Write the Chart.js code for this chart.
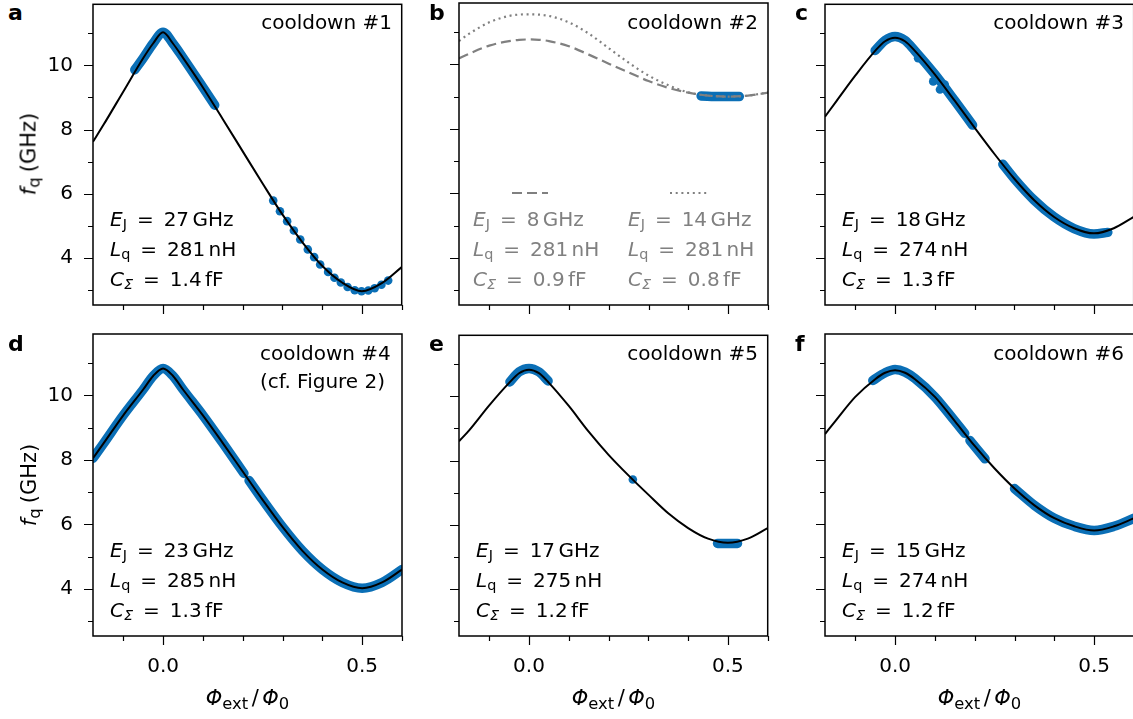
<!DOCTYPE html>
<html>
<head>
<meta charset="utf-8">
<script src="https://cdn.jsdelivr.net/npm/chart.js@4.4.0/dist/chart.umd.min.js"></script>
<style>
  html, body { margin: 0; padding: 0; background: #fff; overflow: hidden; }
  #fig { position: relative; width: 1133px; height: 719px; overflow: hidden;
         font-family: 'DejaVu Sans', sans-serif; color: #000; }
  .panel { position: absolute; }
  .txt { position: absolute; line-height: 1; white-space: nowrap; }
  .txt sub { font-size: 0.72em; vertical-align: baseline; position: relative; top: 0.22em; line-height: 0; }
  .txt.big sub { font-size: 0.78em; }
  .grey { color: #808080; }
</style>
</head>
<body>
<div id="fig"></div>
<script>
// axis ranges and ticks (shared by all six panels)
const xMin = -0.176, xMax = 0.6;
const yMin = 2.54, yMax = 11.9;
const xTicks = [-0.1, 0, 0.1, 0.2, 0.3, 0.4, 0.5, 0.6];
const xTickLabels = ['', '0.0', '', '', '', '', '0.5', ''];
const yTicks = [3, 4, 5, 6, 7, 8, 9, 10, 11];
const yTickLabels = ['', '4', '', '6', '', '8', '', '10', ''];

// flux grid for the fitted spectra
const phiFit = [-0.176, -0.15, -0.1, -0.05, -0.025, 0, 0.025, 0.05, 0.1, 0.15, 0.2, 0.25, 0.3, 0.35, 0.4, 0.45, 0.5, 0.55, 0.6];
const fitA = [7.62, 8.14, 9.18, 10.22, 10.68, 11.03, 10.68, 10.24, 9.32, 8.33, 7.33, 6.33, 5.36, 4.5, 3.76, 3.24, 2.97, 3.22, 3.72];
const fitBdash = [10.18, 10.33, 10.58, 10.72, 10.76, 10.77, 10.76, 10.72, 10.56, 10.3, 10.02, 9.75, 9.48, 9.27, 9.12, 9.03, 9.0, 9.03, 9.12];
const fitBdot = [10.72, 10.95, 11.3, 11.5, 11.54, 11.55, 11.54, 11.5, 11.3, 10.95, 10.5, 10.05, 9.65, 9.35, 9.13, 9.03, 9.0, 9.03, 9.13];
const fitC = [8.4, 8.84, 9.68, 10.45, 10.75, 10.86, 10.75, 10.45, 9.72, 8.9, 8.06, 7.24, 6.47, 5.8, 5.28, 4.93, 4.77, 4.93, 5.28];
const fitD = [8.05, 8.5, 9.38, 10.18, 10.6, 10.83, 10.6, 10.18, 9.38, 8.52, 7.64, 6.76, 5.92, 5.18, 4.6, 4.2, 4.02, 4.2, 4.6];
const fitE = [8.6, 8.95, 9.72, 10.42, 10.72, 10.83, 10.72, 10.42, 9.7, 8.9, 8.18, 7.54, 6.94, 6.36, 5.9, 5.57, 5.44, 5.57, 5.9];
const fitF = [8.8, 9.2, 9.95, 10.5, 10.7, 10.78, 10.7, 10.5, 9.95, 9.2, 8.43, 7.73, 7.11, 6.59, 6.19, 5.94, 5.81, 5.94, 6.19];

// measured data: dense stretches (bands) and single points
const bandA1X = [-0.071, -0.05, -0.025, 0, 0.025, 0.05, 0.1, 0.13];
const bandA1Y = [9.86, 10.22, 10.68, 11.03, 10.68, 10.24, 9.32, 8.76];
const dotsAX = [0.277, 0.294, 0.312, 0.329, 0.345, 0.364, 0.380, 0.395, 0.415, 0.431, 0.447, 0.464, 0.482, 0.499, 0.516, 0.532, 0.549, 0.566];
const dotsAY = [5.79, 5.46, 5.15, 4.86, 4.58, 4.27, 4.03, 3.8, 3.57, 3.39, 3.24, 3.10, 3.00, 2.97, 2.99, 3.06, 3.17, 3.3];

const bandB1X = [0.432, 0.48, 0.528];
const bandB1Y = [9.02, 9.0, 9.0];

const bandC1X = [-0.05, -0.025, 0, 0.025, 0.05, 0.1, 0.15, 0.195];
const bandC1Y = [10.46, 10.78, 10.9, 10.78, 10.45, 9.72, 8.9, 8.14];
const bandC2X = [0.271, 0.3, 0.35, 0.4, 0.45, 0.5, 0.535];
const bandC2Y = [6.92, 6.47, 5.8, 5.28, 4.92, 4.75, 4.8];
const dotsCX = [0.058, 0.096, 0.113, 0.125];
const dotsCY = [10.22, 9.5, 9.25, 9.4];

const bandD1X = [-0.176, -0.15, -0.1, -0.05, -0.025, 0, 0.025, 0.05, 0.1, 0.15, 0.203];
const bandD1Y = [8.05, 8.5, 9.38, 10.18, 10.6, 10.83, 10.6, 10.18, 9.38, 8.52, 7.58];
const bandD2X = [0.216, 0.25, 0.3, 0.35, 0.4, 0.45, 0.5, 0.55, 0.6];
const bandD2Y = [7.36, 6.76, 5.92, 5.18, 4.6, 4.2, 4.02, 4.2, 4.6];

const bandE1X = [-0.048, -0.025, 0, 0.025, 0.048];
const bandE1Y = [10.45, 10.76, 10.87, 10.76, 10.48];
const bandE2X = [0.474, 0.5, 0.524];
const bandE2Y = [5.42, 5.42, 5.42];
const dotsEX = [0.261];
const dotsEY = [7.41];

const bandF1X = [-0.056, -0.025, 0, 0.025, 0.05, 0.1, 0.15, 0.175];
const bandF1Y = [10.46, 10.7, 10.8, 10.72, 10.52, 9.95, 9.2, 8.82];
const bandF2X = [0.188, 0.226];
const bandF2Y = [8.6, 8.03];
const bandF3X = [0.3, 0.35, 0.4, 0.45, 0.5, 0.55, 0.6];
const bandF3Y = [7.11, 6.59, 6.19, 5.94, 5.81, 5.94, 6.19];

// fit parameters per cooldown: E_J (GHz), L_q (nH), C_Sigma (fF)
const paramsA = ['27', '281', '1.4'];
const paramsBdash = ['8', '281', '0.9'];
const paramsBdot = ['14', '281', '0.8'];
const paramsC = ['18', '274', '1.3'];
const paramsD = ['23', '285', '1.3'];
const paramsE = ['17', '275', '1.2'];
const paramsF = ['15', '274', '1.2'];

const BLUE = '#0b6fb6';
const GREY = '#808080';
const FONT = "'DejaVu Sans', sans-serif";

const colLeft = [93, 459, 825];
const rowTop = [3, 334];
const plotW = 309, plotH = 302;
const axisW = 70, axisH = 50, padTop = 3, padRight = 4;

const fig = document.getElementById('fig');

function pts(xs, ys) { return xs.map((x, i) => ({ x, y: ys[i] })); }

function put(html, x, base, size, opts = {}) {
  const d = document.createElement('div');
  d.className = 'txt' + (opts.grey ? ' grey' : '') + (opts.big ? ' big' : '');
  d.innerHTML = html;
  d.style.fontSize = size + 'px';
  d.style.top = (base - 0.846 * size) + 'px';
  if (opts.bold) d.style.fontWeight = 'bold';
  if (opts.right != null) d.style.right = (1133 - opts.right) + 'px';
  else if (opts.center) { d.style.left = x + 'px'; d.style.transform = 'translateX(-50%)'; }
  else d.style.left = x + 'px';
  fig.appendChild(d);
  return d;
}

function paramLines(p) {
  return [
    `<i>E</i><sub>J</sub>&ensp;=&ensp;${p[0]}&#8198;GHz`,
    `<i>L</i><sub>q</sub>&ensp;=&ensp;${p[1]}&#8198;nH`,
    `<i>C</i><sub><i>Σ</i></sub>&ensp;=&ensp;${p[2]}&#8198;fF`
  ];
}

const frame = {
  id: 'frame',
  afterDatasetsDraw(chart) {
    const { ctx, chartArea: a, scales: { x, y } } = chart;
    ctx.save();
    ctx.strokeStyle = '#000';
    ctx.lineWidth = 1.5;
    ctx.strokeRect(a.left, a.top, a.right - a.left, a.bottom - a.top);
    ctx.lineWidth = 1.2;
    ctx.beginPath();
    xTicks.forEach((v, i) => {
      const px = Math.round(x.getPixelForValue(v)) + 0.5;
      const len = xTickLabels[i] ? 9 : 5;
      ctx.moveTo(px, a.bottom);
      ctx.lineTo(px, a.bottom + len);
    });
    yTicks.forEach((v, i) => {
      const py = Math.round(y.getPixelForValue(v)) + 0.5;
      const len = yTickLabels[i] ? 9 : 5;
      ctx.moveTo(a.left, py);
      ctx.lineTo(a.left - len, py);
    });
    ctx.stroke();
    const sm = chart.options.plugins.frame || {};
    if (sm.samples) {
      ctx.strokeStyle = GREY;
      ctx.lineWidth = 2.2;
      sm.samples.forEach(s => {
        ctx.setLineDash(s.dash);
        ctx.beginPath();
        ctx.moveTo(a.left + s.x0, a.top + s.y);
        ctx.lineTo(a.left + s.x1, a.top + s.y);
        ctx.stroke();
      });
    }
    ctx.restore();
  }
};

const panels = [
  { label: 'a', col: 0, row: 0, title: ['cooldown #1'],
    fits: [{ y: fitA }], bands: [[bandA1X, bandA1Y]], dots: [dotsAX, dotsAY], params: paramsA },
  { label: 'b', col: 1, row: 0, title: ['cooldown #2'],
    fits: [{ y: fitBdash, dash: [10, 5], color: GREY }, { y: fitBdot, dash: [2, 3.7], color: GREY }],
    bands: [[bandB1X, bandB1Y]], dots: null, params: null },
  { label: 'c', col: 2, row: 0, title: ['cooldown #3'],
    fits: [{ y: fitC }], bands: [[bandC1X, bandC1Y], [bandC2X, bandC2Y]], dots: [dotsCX, dotsCY], params: paramsC },
  { label: 'd', col: 0, row: 1, title: ['cooldown #4', '(cf. Figure 2)'],
    fits: [{ y: fitD }], bands: [[bandD1X, bandD1Y], [bandD2X, bandD2Y]], dots: null, params: paramsD },
  { label: 'e', col: 1, row: 1, title: ['cooldown #5'],
    fits: [{ y: fitE }], bands: [[bandE1X, bandE1Y], [bandE2X, bandE2Y]], dots: [dotsEX, dotsEY], params: paramsE },
  { label: 'f', col: 2, row: 1, title: ['cooldown #6'],
    fits: [{ y: fitF }], bands: [[bandF1X, bandF1Y], [bandF2X, bandF2Y], [bandF3X, bandF3Y]], dots: null, params: paramsF }
];

panels.forEach(p => {
  const left = colLeft[p.col], top = rowTop[p.row];
  const wrap = document.createElement('div');
  wrap.className = 'panel';
  wrap.style.left = (left - axisW) + 'px';
  wrap.style.top = (top - padTop) + 'px';
  const canvas = document.createElement('canvas');
  canvas.width = axisW + plotW + padRight;
  canvas.height = padTop + plotH + axisH;
  wrap.appendChild(canvas);
  fig.appendChild(wrap);

  const datasets = [];
  p.fits.forEach(f => datasets.push({
    type: 'line', data: pts(phiFit, f.y), borderColor: f.color || '#000',
    borderWidth: f.dash ? 2.2 : 2, borderDash: f.dash || [], pointRadius: 0,
    cubicInterpolationMode: 'monotone', clip: 0
  }));
  p.bands.forEach(b => datasets.push({
    type: 'line', data: pts(b[0], b[1]), borderColor: BLUE, borderWidth: 9.5,
    borderCapStyle: 'round', borderJoinStyle: 'round', pointRadius: 0,
    cubicInterpolationMode: 'monotone', clip: 0
  }));
  if (p.dots) datasets.push({
    type: 'scatter', data: pts(p.dots[0], p.dots[1]), backgroundColor: BLUE,
    borderWidth: 0, pointRadius: 4.3, clip: 0
  });

  const showX = p.row === 1, showY = p.col === 0;
  new Chart(canvas, {
    type: 'line',
    data: { datasets },
    options: {
      responsive: false, animation: false, devicePixelRatio: 1,
      layout: { padding: { top: padTop, right: padRight, left: 0, bottom: 0 } },
      plugins: {
        legend: { display: false }, tooltip: { enabled: false },
        frame: p.label === 'b' ? { samples: [
          { x0: 53, x1: 89, y: 190, dash: [10, 5] },
          { x0: 211, x1: 248, y: 190, dash: [2, 3.7] }
        ] } : {}
      },
      scales: {
        x: {
          type: 'linear', min: xMin, max: xMax,
          afterBuildTicks: s => { s.ticks = xTicks.map(v => ({ value: v })); },
          afterFit: s => { s.height = axisH; s.paddingLeft = 0; s.paddingRight = 0; },
          grid: { drawOnChartArea: false, drawTicks: true, tickLength: 9, tickColor: 'rgba(0,0,0,0)' },
          border: { display: false },
          ticks: { display: showX, autoSkip: false, maxRotation: 0, padding: 10, color: '#000',
                   font: { family: FONT, size: 20 }, callback: (v, i) => xTickLabels[i] }
        },
        y: {
          type: 'linear', min: yMin, max: yMax,
          afterBuildTicks: s => { s.ticks = yTicks.map(v => ({ value: v })); },
          afterFit: s => { s.width = axisW; s.paddingTop = 0; s.paddingBottom = 0; },
          grid: { drawOnChartArea: false, drawTicks: true, tickLength: 9, tickColor: 'rgba(0,0,0,0)' },
          border: { display: false },
          ticks: { display: showY, autoSkip: false, padding: 11, color: '#000',
                   font: { family: FONT, size: 20 }, callback: (v, i) => yTickLabels[i] }
        }
      }
    },
    plugins: [frame]
  });

  // panel letter
  put(p.label, p.col === 0 ? left - 85 : left - 30, top + 18, 22, { bold: true });

  // cooldown title
  if (p.title.length === 1) {
    put(p.title[0], 0, top + 26, 20, { right: left + plotW - 10 });
  } else {
    p.title.forEach((t, k) => put(t, left + 167, top + 26 + 28 * k, 20));
  }

  // fit parameters
  if (p.params) {
    paramLines(p.params).forEach((t, k) => put(t, left + 17, top + 223 + 30 * k, 20));
  } else {
    paramLines(paramsBdash).forEach((t, k) => put(t, left + 14, top + 223 + 30 * k, 20, { grey: true }));
    paramLines(paramsBdot).forEach((t, k) => put(t, left + 169, top + 223 + 30 * k, 20, { grey: true }));
  }

  // y-axis title
  if (p.col === 0) {
    const d = put('<i>f</i><sub>q</sub>&#8197;(GHz)', 29, top + 151, 21, { center: true, big: true });
    d.style.transform = 'translate(-50%, -50%) rotate(-90deg)';
    d.style.top = (top + 151) + 'px';
  }

  // x-axis title
  if (p.row === 1) {
    put('<i>Φ</i><sub>ext</sub>&#8198;/&#8198;<i>Φ</i><sub>0</sub>', left + plotW / 2, 706, 21, { center: true, big: true });
  }
});
</script>
</body>
</html>
